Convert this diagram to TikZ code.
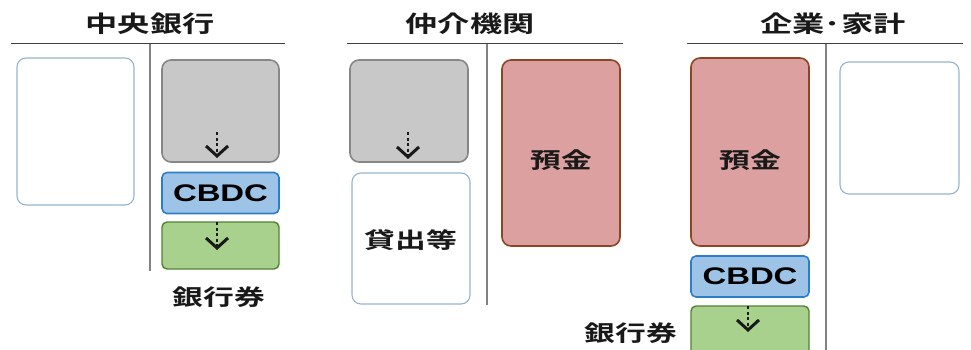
\documentclass[tikz,border=0pt]{standalone}
\usepackage{fontspec}
\usetikzlibrary{arrows.meta}
\newfontfamily\jpfont[FakeStretch=1.4]{Noto Sans CJK JP Bold}
\newfontfamily\cbdcfont[FakeStretch=1.37]{Liberation Sans Bold}
\definecolor{pinkfill}{RGB}{221,160,160}
\definecolor{pinkline}{RGB}{140,70,35}
\definecolor{grayfill}{RGB}{200,200,200}
\definecolor{grayline}{RGB}{135,135,135}
\definecolor{bluefill}{RGB}{157,195,230}
\definecolor{blueline}{RGB}{46,125,200}
\definecolor{greenfill}{RGB}{169,209,142}
\definecolor{greenline}{RGB}{83,129,53}
\definecolor{whiteline}{RGB}{150,180,210}
\definecolor{divline}{RGB}{130,130,130}
\tikzset{
  x=1pt, y=-1pt,
  box/.style={rounded corners=9pt, line width=1.6pt},
  whitebox/.style={box, draw=whiteline, fill=white, line width=1.1pt},
  graybox/.style={box, draw=grayline, fill=grayfill},
  pinkbox/.style={box, draw=pinkline, fill=pinkfill},
  cbdcbox/.style={rounded corners=5pt, line width=1.6pt, draw=blueline, fill=bluefill},
  greenbox/.style={rounded corners=5pt, line width=1.4pt, draw=greenline, fill=greenfill},
  title/.style={font=\jpfont\fontsize{23}{26}\selectfont, text=black!90},
  jptext/.style={font=\jpfont\fontsize{22}{24}\selectfont, text=black!90},
  cbdctext/.style={font=\cbdcfont\fontsize{24}{26}\selectfont, text=black},
  hline/.style={line width=1pt, draw=black!75},
  vline/.style={line width=1.8pt, draw=divline},
  darrow/.style={line width=2pt, draw=black!90, dash pattern=on 3pt off 2.5pt, -{Straight Barb[length=10pt,width=22pt,line width=3pt]}}
}
\begin{document}
\begin{tikzpicture}
\useasboundingbox (0,0) rectangle (971,350);
% ---- Central bank ----
\node[title] (t1) at (150,24) {中央銀行};
\coordinate (h1a) at (11,44); \coordinate (h1b) at (285,44);
\draw[hline] (h1a) -- (h1b);
\coordinate (v1a) at (150,44); \coordinate (v1b) at (150,271);
\draw[vline] (v1a) -- (v1b);
\draw[whitebox] (17,58) rectangle (134,205);
\draw[graybox] (162,60) rectangle (279,162);
\node[cbdcbox, minimum width=117pt, minimum height=41pt, inner sep=0pt] (cb1) at (220.5,193) {};
\node[cbdctext] at (cb1) {CBDC};
\draw[greenbox] (162,222) rectangle (279,269);
\coordinate (a1s) at (217,132); \coordinate (a1e) at (217,158);
\draw[darrow] (a1s) -- (a1e);
\coordinate (a2s) at (217,222); \coordinate (a2e) at (217,250);
\draw[darrow] (a2s) -- (a2e);
\node[jptext] (bn1) at (219,297) {銀行券};
% ---- Intermediary ----
\node[title] (t2) at (470,24) {仲介機関};
\coordinate (h2a) at (347,44); \coordinate (h2b) at (623,44);
\draw[hline] (h2a) -- (h2b);
\coordinate (v2a) at (487,44); \coordinate (v2b) at (487,305);
\draw[vline] (v2a) -- (v2b);
\draw[graybox] (350,60) rectangle (468,162);
\coordinate (a3s) at (408,132); \coordinate (a3e) at (408,159);
\draw[darrow] (a3s) -- (a3e);
\draw[whitebox] (352,173) rectangle (470,304);
\node[jptext] (loan) at (411,240) {貸出等};
\draw[pinkbox] (502,60) rectangle (620,246);
\node[jptext] (dep1) at (561,160) {預金};
% ---- Firms/households ----
\node[title] (t3) at (833,24) {企業･家計};
\coordinate (h3a) at (687,44); \coordinate (h3b) at (963,44);
\draw[hline] (h3a) -- (h3b);
\coordinate (v3a) at (826,44); \coordinate (v3b) at (826,350);
\draw[vline] (v3a) -- (v3b);
\draw[pinkbox] (691,58) rectangle (809,246);
\node[jptext] (dep2) at (750,160) {預金};
\node[cbdcbox, minimum width=118pt, minimum height=41pt, inner sep=0pt] (cb2) at (750,276.5) {};
\node[cbdctext] at (cb2) {CBDC};
\draw[greenbox] (691,306) rectangle (809,360);
\coordinate (a4s) at (748,306); \coordinate (a4e) at (748,332);
\draw[darrow] (a4s) -- (a4e);
\node[jptext] (bn2) at (631,333) {銀行券};
\draw[whitebox] (840,62) rectangle (959,194);
\end{tikzpicture}
\end{document}
